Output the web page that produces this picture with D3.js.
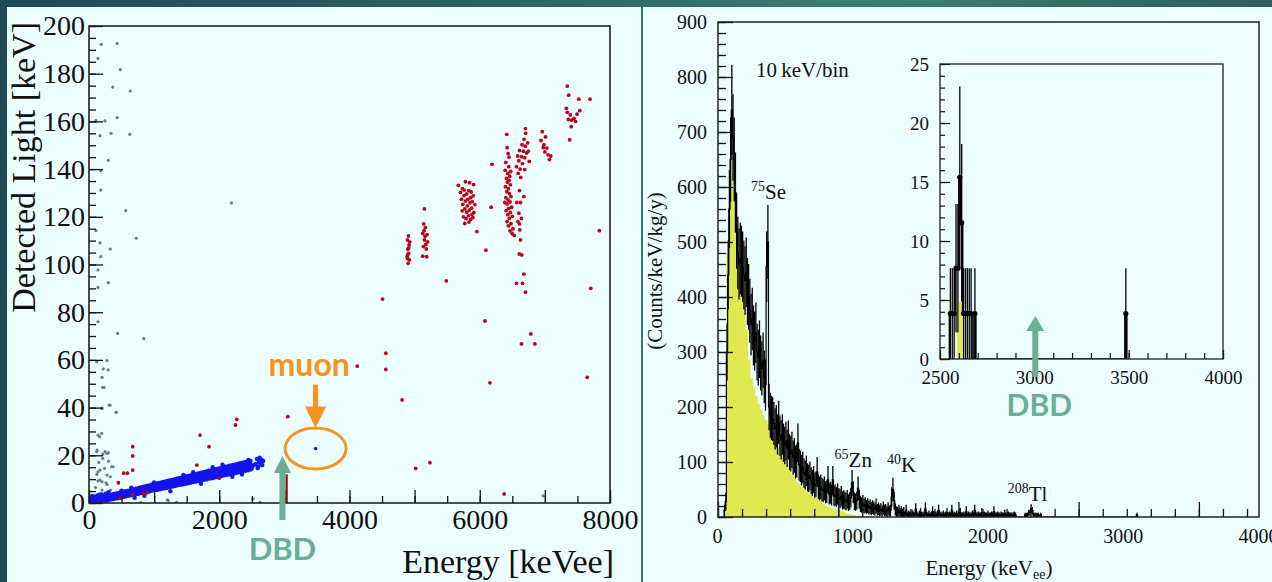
<!DOCTYPE html>
<html>
<head>
<meta charset="utf-8">
<script src="https://cdn.jsdelivr.net/npm/d3@7"></script>
<style>
  html, body { margin: 0; padding: 0; background: #1d4b56; }
  svg { display: block; }
  .serif { font-family: "Liberation Serif", "Times New Roman", serif; fill: #111; }
  .note { font-family: Lato, "Open Sans", sans-serif; font-weight: 700; }
</style>
</head>
<body>
<svg id="chart" width="1272" height="582"></svg>
<script>
// ---------- Left panel: light yield vs. energy scatter ----------
// Blue band (beta/gamma events): columns of [energy keVee, light values keV ...]
const betaGammaColumns = [
  [20, 0.0, 0.6, 1.1, 0.3], [40, 0.1, 1.3, 0.7, 0.2], [60, 1.5, 0.4, 0.9, 0.0], [80, 0.2, 1.6, 1.0, 0.5],
  [100, 1.8, 0.3, 1.2, 0.6], [130, 0.4, 2.0, 1.1, 0.7], [160, 2.3, 0.6, 1.5, 0.9], [190, 0.8, 2.5, 1.3, 2.1],
  [220, 1.0, 2.7, 1.6, 0.9], [250, 2.9, 1.2, 2.2, 1.5], [280, 1.1, 3.0, 2.4, 1.6], [310, 3.3, 1.4, 2.0, 2.7],
  [340, 1.5, 3.4, 2.3, 2.9], [370, 3.7, 1.7, 2.5, 3.1], [400, 1.9, 3.9, 2.6, 3.3], [440, 4.1, 2.0, 3.5, 2.6],
  [480, 2.3, 4.4, 3.0, 3.8], [520, 4.7, 2.5, 3.9, 3.1], [560, 2.7, 4.9, 3.5, 4.3], [600, 5.2, 3.0, 4.5, 3.6],
  [640, 3.2, 5.4, 4.0, 4.8], [680, 5.7, 3.4, 4.9, 4.1], [720, 3.7, 6.0, 4.5, 5.4], [760, 6.3, 3.9, 5.6, 4.6],
  [800, 4.2, 6.6, 5.0, 5.9], [840, 6.8, 4.4, 6.1, 5.1], [880, 4.6, 7.1, 5.4, 6.4], [920, 7.4, 4.8, 6.6, 5.6],
  [960, 5.1, 7.7, 5.9, 6.9], [1000, 7.9, 5.3, 7.1, 6.1], [1040, 5.5, 8.2, 6.4, 7.4], [1080, 8.4, 5.7, 7.6, 6.6],
  [1120, 6.0, 8.7, 6.8, 7.9], [1160, 8.9, 6.2, 8.1, 7.1], [1200, 6.4, 9.2, 7.3, 8.4], [1240, 9.5, 6.7, 8.6, 7.5],
  [1280, 6.9, 9.7, 7.8, 8.9], [1320, 10.0, 7.1, 9.1, 8.0], [1360, 7.4, 10.3, 8.3, 9.4], [1400, 10.5, 7.6, 9.6, 8.5],
  [1440, 7.8, 10.8, 8.8, 9.9], [1480, 11.1, 8.1, 10.1, 9.0], [1520, 8.3, 11.3, 9.3, 10.4], [1560, 11.6, 8.5, 10.6, 9.5],
  [1600, 8.8, 11.9, 9.8, 10.9], [1640, 12.1, 9.0, 11.1, 10.0], [1680, 9.2, 12.4, 10.3, 11.4], [1720, 12.7, 9.5, 11.6, 10.5],
  [1760, 9.7, 12.9, 10.8, 11.9], [1800, 13.2, 9.9, 12.1, 11.0], [1840, 10.2, 13.5, 11.3, 12.4], [1880, 13.7, 10.4, 12.6, 11.5],
  [1920, 10.6, 14.0, 11.8, 12.9], [1960, 14.3, 10.9, 13.1, 12.0], [2000, 11.1, 14.5, 12.3, 13.4], [2040, 14.8, 11.3, 13.6, 12.5],
  [2080, 11.6, 15.1, 12.8, 13.9], [2120, 15.3, 11.8, 14.1, 13.0], [2160, 12.0, 15.6, 13.3, 14.4], [2200, 15.9, 12.3, 14.6, 13.5],
  [2240, 12.5, 16.1, 13.8, 14.9], [2280, 16.4, 12.8, 15.1, 14.0], [2320, 13.0, 16.7, 14.3, 15.4], [2360, 16.9, 13.2, 15.6, 14.5],
  [2400, 13.5, 17.2, 14.8, 15.9], [2440, 17.4, 13.7, 16.1, 15.0], [2480, 14.0, 17.6, 15.3, 16.3]
];
// Extra blue events: low-energy blob, band edges and the 2615 keV cluster
const betaGammaExtra = [
  [30, 1.9], [70, 2.6], [110, 2.9], [140, 3.3], [200, 3.6], [230, 0.4], [260, 4.0], [50, 3.0],
  [300, 4.5], [650, 6.4], [1000, 8.6], [1250, 4.9], [1600, 12.9], [1720, 8.1], [2050, 16.1],
  [2200, 11.0], [850, 3.0], [1450, 11.8], [1900, 15.0], [2350, 12.0], [500, 5.2], [700, 2.2],
  [2447, 18.0], [2500, 14.6], [2530, 15.8], [2560, 16.4], [2580, 18.5], [2590, 14.7], [2600, 15.3],
  [2610, 17.2], [2620, 19.0], [2640, 16.8], [2650, 18.2], [2660, 15.9], [2675, 17.6]
];
const muonEvent = [3479, 22.8];

// Grey events (surface / low-energy alpha region)
const greyEvents = [
  [188, 192.3], [432, 192.7], [138, 186.4], [482, 181.7], [364, 174.4], [633, 172.7], [106, 160.3],
  [244, 160.2], [432, 161.6], [169, 154], [338, 155], [627, 154.6], [295, 143.7], [181, 139.2],
  [181, 131.2], [2188, 125.8], [564, 122.6], [106, 114.2], [727, 111], [169, 109.1], [326, 106.5],
  [181, 103.3], [138, 97.7], [295, 92.4], [138, 90.4], [138, 76], [439, 71.1], [840, 68.9],
  [119, 59.2], [276, 59.7], [219, 56.2], [295, 55.8], [200, 52.7], [231, 48.4], [307, 41.1],
  [200, 39.7], [420, 38], [138, 28.5], [163, 27.8], [125, 22.2], [276, 20.8], [213, 20.5],
  [370, 15.2], [138, 13.1], [276, 11.7], [169, 9.6], [261, 8.5], [326, 11], [200, 5.4],
  [1203, 1.3], [1329, 0], [796, 0.2], [2519, 1.7], [6972, 3], [2627, 0.3], [1218, 1], [1347, 0.3],
  [210, 48.5], [195, 39.7], [323, 41], [415, 38], [195, 29.2], [118, 21.5], [246, 21.5], [297, 21],
  [210, 18.7], [348, 15.2], [169, 13.8], [138, 9.3], [200, 8.9], [276, 7.8], [100, 6.5], [330, 5.4],
  [169, 4.0], [261, 2.6], [400, 2.0], [120, 12.0], [240, 14.5], [300, 17.5], [150, 17.0]
];

// Red events (alpha region and scattered high-light events)
const alphaEvents = [
  // ~4.9 MeV group
  [4905, 112.0], [4890, 110.3], [4915, 108.2], [4895, 106.4], [4910, 104.7], [4885, 103.3],
  [4920, 101.9], [4900, 100.5], [4895, 104.2], [4925, 109.5], [4908, 107.0], [4890, 102.5],
  // ~5.15 MeV group
  [5150, 123.3], [5140, 117.0], [5165, 115.5], [5125, 113.0], [5190, 112.5], [5150, 110.3],
  [5200, 109.5], [5135, 107.5], [5180, 106.5], [5125, 103.5], [5185, 103.3], [5160, 111.8],
  [5145, 114.2], [5170, 108.4],
  // ~5.8 MeV group
  [5672, 133.2], [5704, 130.2], [5735, 131.8], [5780, 134.7], [5843, 134.3], [5905, 133.5],
  [5720, 127.4], [5760, 128.9], [5800, 129.6], [5830, 131.0], [5870, 130.4], [5900, 128.8],
  [5740, 125.2], [5780, 126.6], [5815, 127.3], [5850, 125.9], [5885, 126.4], [5925, 125.1],
  [5730, 122.5], [5770, 123.3], [5800, 121.9], [5840, 122.8], [5875, 123.6], [5910, 121.8],
  [5750, 120.0], [5790, 119.2], [5825, 120.4], [5860, 118.9], [5895, 119.7], [5770, 117.2],
  [5835, 117.8], [5880, 121.0], [5810, 124.6], [5760, 131.2], [5860, 128.0],
  // ~6.4 MeV group
  [6414, 154.6], [6420, 149.0], [6435, 146.5], [6400, 142.8], [6445, 141.0], [6390, 139.5],
  [6430, 138.2], [6460, 137.0], [6410, 136.1], [6450, 135.3], [6425, 134.5], [6470, 133.4],
  [6395, 132.6], [6440, 131.8], [6415, 130.5], [6455, 129.7], [6480, 128.5], [6400, 128.0],
  [6435, 127.1], [6465, 126.2], [6420, 125.4], [6490, 124.0], [6445, 123.5], [6405, 122.6],
  [6470, 121.8], [6430, 120.9], [6500, 120.2], [6455, 119.3], [6420, 118.0], [6480, 117.1],
  [6440, 116.2], [6510, 115.0], [6465, 114.1], [6495, 113.0], [6530, 112.2], [6450, 145.0],
  [6475, 139.0], [6385, 126.0], [6570, 126.0], [6600, 121.5], [6585, 118.0], [6615, 114.5],
  [6610, 131.0], [6677, 128.5], [6625, 126.0], [6640, 119.3], [6610, 117.0],
  [6626, 110.3], [6608, 104.4], [6645, 104.0], [6677, 96.0], [6564, 92.1], [6657, 92.1], [6702, 88.4],
  // ~6.7 MeV group
  [6564, 141.0], [6590, 138.2], [6600, 143.5], [6620, 140.0], [6640, 145.2], [6655, 142.3],
  [6670, 147.5], [6690, 144.8], [6700, 149.6], [6720, 146.7], [6735, 151.0], [6610, 147.8],
  [6650, 150.2], [6680, 152.5], [6705, 155.0], [6700, 157.0], [6630, 136.5], [6580, 145.5],
  [6745, 147.5], [6760, 143.2], [6690, 139.8],
  // ~7.0 MeV group
  [6940, 152.0], [6960, 155.7], [6985, 150.3], [7010, 153.5], [7030, 148.8], [7050, 146.0],
  [7070, 144.0], [7000, 147.2], [7090, 145.5], [6975, 149.0],
  // ~7.4 MeV group
  [7344, 174.8], [7366, 171.0], [7522, 169.3], [7344, 163.8], [7391, 162.7], [7447, 161.3],
  [7494, 163.0], [7536, 164.5], [7405, 157.8], [7381, 152.3], [7330, 165.5], [7410, 160.5],
  [7470, 160.0], [7360, 160.8],
  // isolated events
  [7693, 169.3], [7837, 114.2], [7705, 90.0], [5486, 93.1], [5956, 113.8], [6094, 106.0],
  [6175, 124.0], [6188, 142.0], [4507, 85.5], [4558, 62.8], [4558, 56.0], [4808, 43.2],
  [4119, 57.4], [5016, 14.5], [5235, 16.9], [6080, 76.3], [6157, 50.4], [6375, 3.8],
  [6640, 66.7], [6784, 70.9], [6846, 66.7], [7650, 52.7], [3053, 36.2], [2269, 35.1],
  [2249, 32.7], [1705, 28.5], [1843, 23.6], [1655, 15.9], [2000, 10.4], [671, 23.6],
  [671, 19.7], [671, 13.8], [533, 12.5], [589, 12.5], [451, 8.5], [482, 2.0], [671, 3.4],
  [828, 4.1], [890, 4.3]
];
const qValue = 3034;            // keV, marked on the energy axis
const qMarkLight = 12;          // height of the Q-value marker (keV light)

const leftXTicks = [0, 2000, 4000, 6000, 8000];
const leftYTicks = [0, 20, 40, 60, 80, 100, 120, 140, 160, 180, 200];

// ---------- Right panel: energy spectrum, 10 keV/bin ----------
const specStart = 50;   // keV, lower edge of first bin
const binWidth = 10;    // keV
const specValues = [
  12, 28, 300, 440, 560, 650, 740, 690, 650, 590,   // 50-140
  520, 480, 460, 470, 465, 455, 440, 430, 445, 410,  // 150-240
  400, 375, 350, 360, 330, 320, 335, 300, 290, 305,  // 250-340
  280, 270, 285, 255, 240, 455, 500, 200, 185, 180,  // 350-440
  178, 170, 160, 165, 150, 172, 148, 140, 150, 135,  // 450-540
  130, 138, 125, 140, 118, 115, 122, 108, 112, 100,  // 550-640
  102, 135, 95, 92, 85, 90, 80, 76, 84, 72,          // 650-740
  70, 75, 66, 62, 68, 58, 60, 82, 55, 52,            // 750-840
  55, 50, 48, 52, 45, 46, 68, 42, 44, 40,            // 850-940
  68, 38, 40, 36, 42, 35, 33, 38, 30, 32,            // 950-1040
  30, 28, 32, 26, 29, 35, 62, 45, 28, 27,            // 1050-1140
  30, 52, 32, 24, 22, 25, 20, 22, 18, 21,            // 1150-1240
  17, 19, 15, 18, 16, 14, 20, 13, 15, 12,            // 1250-1340
  14, 11, 16, 12, 13, 10, 15, 11, 12, 36,            // 1350-1440
  50, 30, 14, 10, 9, 12, 8, 10, 7, 9,                // 1450-1540
  4, 12, 3, 5, 4, 3, 6, 4, 3, 14,                    // 1550-1640
  4, 3, 5, 8, 3, 4, 3, 15, 4, 3,                     // 1650-1740
  5, 3, 4, 10, 3, 4, 3, 5, 12, 3,                    // 1750-1840
  4, 3, 5, 3, 4, 8, 3, 4, 3, 12,                     // 1850-1940
  3, 4, 3, 5, 3, 4, 8, 3, 3, 4,                      // 1950-2040
  3, 10, 3, 4, 3, 3, 5, 3, 12, 4,                    // 2050-2140
  3, 4, 3, 3, 8, 3, 4, 3, 3, 5,                      // 2150-2240
  3, 3, 4, 3, 10, 3, 3, 4, 3, 3,                     // 2250-2340
  4, 3, 3, 6, 3, 3, 4, 3, 3, 3,                      // 2350-2440
  3, 4, 3                                            // 2450-2470
];
const specWeight = 9;   // counts/keV/kg/y per event in the 10 keV/bin spectrum
// Sparse high-energy bins (lower edge keV, counts/keV/kg/y); one event = 3.85
const highBinStart = [2550, 2560, 2570, 2580, 2590, 2600, 2610, 2620, 2630, 2640, 2650, 2660, 2680, 3480];
const highBinValue = [3.85, 3.85, 3.85, 7.7, 7.7, 15.4, 11.55, 3.85, 3.85, 3.85, 3.85, 3.85, 3.85, 3.85];
const highWeight = 3.85;

// Yellow reference spectrum, 20 keV bins from 70 keV
const refStart = 70;
const refWidth = 20;
const refValues = [
  480, 585, 655, 600, 520, 445, 400, 372, 340, 285, 252, 236, 220, 206, 195, 185, 176, 168,
  158, 146, 136, 126, 117, 110, 102, 94, 85, 77, 70, 64, 60, 55, 50, 46, 42, 40, 38, 36,
  32, 28, 24, 20, 18, 16, 15, 14, 13, 12, 10, 8, 6, 5, 4, 3, 2, 2, 1, 1, 1, 1, 1, 1
];
const refHighStart = [2590, 2600, 2610];
const refHighValue = [2.2, 4.8, 4.8];

const rightXLabels = [0, 1000, 2000, 3000, 4000];
const rightYTicks = [0, 100, 200, 300, 400, 500, 600, 700, 800, 900];
const insetXTicks = [2500, 3000, 3500, 4000];
const insetYTicks = [0, 5, 10, 15, 20, 25];

// Isotope labels: [mass, symbol, energy keV, value]
const isotopes = [
  ["75", "Se", 275, 578],
  ["65", "Zn", 970, 91],
  ["40", "K", 1405, 82],
  ["208", "Tl", 2410, 30]
];

// ---------- drawing ----------
const svg = d3.select("#chart");
const W = 1272, H = 582;
const PANEL = "#ebfdfd";

const defs = svg.append("defs");
const grad = defs.append("linearGradient").attr("id", "topbar").attr("x1", 0).attr("x2", 1).attr("y1", 0).attr("y2", 0);
[["0%", "#1c4a55"], ["40%", "#2c6466"], ["70%", "#3b7e73"], ["100%", "#2b5e5e"]]
  .forEach(([o, c]) => grad.append("stop").attr("offset", o).attr("stop-color", c));

svg.append("rect").attr("width", W).attr("height", H).attr("fill", "#1d4b56");
svg.append("rect").attr("width", W).attr("height", 7).attr("fill", "url(#topbar)");
svg.append("rect").attr("x", 7).attr("y", 7).attr("width", 634).attr("height", H - 7).attr("fill", PANEL);
svg.append("rect").attr("x", 641).attr("y", 7).attr("width", 2).attr("height", H - 7).attr("fill", "#36776e");
svg.append("rect").attr("x", 643).attr("y", 7).attr("width", W - 643).attr("height", H - 7).attr("fill", PANEL);

function tickAxis(g, gen, scale, values, size, width) {
  g.call(gen(scale).tickValues(values).tickSize(size).tickFormat(""));
  g.select(".domain").remove();
  g.selectAll("line").attr("stroke", "#111").attr("stroke-width", width || 1.3);
}
function labelAxis(g, gen, scale, values, pad, size) {
  g.call(gen(scale).tickValues(values).tickSize(0).tickPadding(pad).tickFormat(d3.format("d")));
  g.select(".domain").remove();
  g.selectAll("text").attr("class", "serif").attr("font-size", size).attr("fill", "#111");
}

// ===== Left panel =====
const xL = d3.scaleLinear().domain([0, 8000]).range([89, 610]);
const yL = d3.scaleLinear().domain([0, 200]).range([503, 26]);

defs.append("clipPath").attr("id", "clipL").append("rect")
  .attr("x", 89).attr("y", 26).attr("width", 521).attr("height", 477);

const gL = svg.append("g");
const scat = gL.append("g").attr("clip-path", "url(#clipL)");

scat.selectAll(".grey").data(greyEvents).join("circle")
  .attr("cx", d => xL(d[0])).attr("cy", d => yL(d[1])).attr("r", 1.6)
  .attr("fill", "#6d7894");

const blue = betaGammaColumns.flatMap(c => c.slice(1).map(v => [c[0], v])).concat(betaGammaExtra);
scat.selectAll(".blue").data(blue).join("circle")
  .attr("cx", d => xL(d[0])).attr("cy", d => yL(d[1])).attr("r", 2.2)
  .attr("fill", "#1414ee");

scat.selectAll(".red").data(alphaEvents).join("circle")
  .attr("cx", d => xL(d[0])).attr("cy", d => yL(d[1])).attr("r", 1.9)
  .attr("fill", "#b8061c");

scat.append("circle").attr("cx", xL(muonEvent[0])).attr("cy", yL(muonEvent[1])).attr("r", 1.8).attr("fill", "#1414ee");

scat.append("line")
  .attr("x1", xL(qValue)).attr("x2", xL(qValue)).attr("y1", yL(0)).attr("y2", yL(qMarkLight))
  .attr("stroke", "#9a0d14").attr("stroke-width", 2.4);

tickAxis(gL.append("g").attr("transform", "translate(89,0)"), d3.axisRight, yL, d3.range(0, 201, 5), 7);
tickAxis(gL.append("g").attr("transform", "translate(89,0)"), d3.axisRight, yL, leftYTicks, 14);
tickAxis(gL.append("g").attr("transform", "translate(0,503)"), d3.axisTop, xL, d3.range(0, 8001, 500), 7);
tickAxis(gL.append("g").attr("transform", "translate(0,503)"), d3.axisTop, xL, d3.range(0, 8001, 1000), 13);
gL.append("rect").attr("x", 89).attr("y", 26).attr("width", 521).attr("height", 477)
  .attr("fill", "none").attr("stroke", "#222").attr("stroke-width", 1.6);

labelAxis(gL.append("g").attr("transform", "translate(89,0)"), d3.axisLeft, yL, leftYTicks, 4, 28);
labelAxis(gL.append("g").attr("transform", "translate(0,503)"), d3.axisBottom, xL, leftXTicks, 6, 28);

gL.append("text").attr("class", "serif").attr("font-size", 34)
  .attr("text-anchor", "end").attr("transform", "translate(35,22) rotate(-90)")
  .text("Detected Light [keV]");
gL.append("text").attr("class", "serif").attr("font-size", 34)
  .attr("text-anchor", "end").attr("x", 614).attr("y", 573)
  .text("Energy [keVee]");

// muon annotation
const ORANGE = "#f5941e", GREEN = "#6aae94";
const mx = xL(muonEvent[0]), my = yL(muonEvent[1]);
gL.append("ellipse").attr("cx", mx).attr("cy", my).attr("rx", 30.5).attr("ry", 20.5)
  .attr("fill", "none").attr("stroke", ORANGE).attr("stroke-width", 3);
gL.append("rect").attr("x", mx - 2.6).attr("y", my - 64).attr("width", 5.2).attr("height", 24).attr("fill", ORANGE);
gL.append("path").attr("d", `M${mx - 10.5},${my - 42} L${mx + 10.5},${my - 42} L${mx},${my - 20.5} Z`).attr("fill", ORANGE);
gL.append("text").attr("class", "note").attr("font-size", 32).attr("fill", ORANGE)
  .attr("x", mx - 47).attr("y", my - 73).text("muon");

// DBD arrow (left)
const dx = xL(2970);
gL.append("path").attr("d", `M${dx - 8.5},${yL(0) - 30} L${dx + 8.5},${yL(0) - 30} L${dx},${yL(0) - 47} Z`).attr("fill", GREEN);
gL.append("rect").attr("x", dx - 3).attr("y", yL(0) - 31).attr("width", 6).attr("height", 48).attr("fill", GREEN);
gL.append("text").attr("class", "note").attr("font-size", 31).attr("fill", GREEN)
  .attr("text-anchor", "middle").attr("x", dx).attr("y", 560).text("DBD");

// ===== Right panel =====
const xR = d3.scaleLinear().domain([0, 4500]).range([718, 1259]);
const xRLab = d3.scaleLinear().domain([0, 4000]).range([717, 1258]);
const yR = d3.scaleLinear().domain([0, 900]).range([517, 22]);

defs.append("clipPath").attr("id", "clipR").append("rect")
  .attr("x", 718).attr("y", 22).attr("width", 541).attr("height", 495);

const gR = svg.append("g");
const plotR = gR.append("g").attr("clip-path", "url(#clipR)");

// bins
const lowBins = specValues.map((v, i) => ({ x0: specStart + i * binWidth, x1: specStart + (i + 1) * binWidth, v, w: specWeight }));
const highBins = highBinStart.map((s, i) => ({ x0: s, x1: s + binWidth, v: highBinValue[i], w: highWeight }));
const allBins = lowBins.concat(highBins);
const refBins = refValues.map((v, i) => ({ x0: refStart + i * refWidth, x1: refStart + (i + 1) * refWidth, v }))
  .concat(refHighStart.map((s, i) => ({ x0: s, x1: s + binWidth, v: refHighValue[i] })));

function stepPoints(bins) {
  const pts = [[bins[0].x0, 0]];
  bins.forEach((b, i) => {
    pts.push([b.x0, b.v]);
    const next = bins[i + 1];
    if (!next || next.x0 !== b.x1) { pts.push([b.x1, b.v]); pts.push([b.x1, 0]); }
  });
  return pts;
}
const err = b => Math.sqrt(b.v * b.w);

function drawSpectrum(g, xs, ys, bins, refs, lw, ew) {
  // reference spectrum (filled)
  [refs.filter(b => b.x0 < 2000), refs.filter(b => b.x0 >= 2000)]
    .filter(gr => gr.length)
    .forEach(gr => {
      g.append("path").datum(stepPoints(gr))
        .attr("d", d3.area().curve(d3.curveStepAfter).x(d => xs(d[0])).y0(ys(0)).y1(d => ys(d[1])))
        .attr("fill", "#dfe84f");
    });
  g.append("path").datum(stepPoints(bins))
    .attr("d", d3.line().curve(d3.curveStepAfter).x(d => xs(d[0])).y(d => ys(d[1])))
    .attr("fill", "none").attr("stroke", "#000").attr("stroke-width", lw);
  g.selectAll(null).data(bins.filter(b => b.v > 0)).join("line")
    .attr("x1", b => xs((b.x0 + b.x1) / 2)).attr("x2", b => xs((b.x0 + b.x1) / 2))
    .attr("y1", b => ys(Math.max(0, b.v - err(b)))).attr("y2", b => ys(b.v + err(b)))
    .attr("stroke", "#000").attr("stroke-width", ew);
}
drawSpectrum(plotR, xR, yR, allBins, refBins, 1.2, 1.3);

tickAxis(gR.append("g").attr("transform", "translate(718,0)"), d3.axisRight, yR, d3.range(0, 901, 20), 8);
tickAxis(gR.append("g").attr("transform", "translate(718,0)"), d3.axisRight, yR, rightYTicks, 15);
tickAxis(gR.append("g").attr("transform", "translate(0,517)"), d3.axisTop, xR, d3.range(0, 4401, 200), 8);
tickAxis(gR.append("g").attr("transform", "translate(0,517)"), d3.axisTop, xR, [0, 1000, 2000, 3000, 4000], 15);
gR.append("rect").attr("x", 718).attr("y", 22).attr("width", 541).attr("height", 495)
  .attr("fill", "none").attr("stroke", "#222").attr("stroke-width", 1.5);

labelAxis(gR.append("g").attr("transform", "translate(718,0)"), d3.axisLeft, yR, rightYTicks, 11, 20);
labelAxis(gR.append("g").attr("transform", "translate(0,517)"), d3.axisBottom, xRLab, rightXLabels, 12, 20);

gR.append("text").attr("class", "serif").attr("font-size", 21)
  .attr("text-anchor", "middle").attr("transform", "translate(662,271) rotate(-90)")
  .text("(Counts/keV/kg/y)");
const xt = gR.append("text").attr("class", "serif").attr("font-size", 21)
  .attr("text-anchor", "middle").attr("x", 989).attr("y", 575);
xt.append("tspan").text("Energy (keV");
xt.append("tspan").attr("font-size", 14).attr("dy", 4).text("ee");
xt.append("tspan").attr("dy", -4).text(")");

gR.append("text").attr("class", "serif").attr("font-size", 21)
  .attr("x", 756).attr("y", 77).text("10\u2009keV/bin");

isotopes.forEach(([mass, sym, e, v]) => {
  const t = gR.append("text").attr("class", "serif").attr("x", xR(e)).attr("y", yR(v));
  t.append("tspan").attr("font-size", 14).attr("dy", -8).text(mass);
  t.append("tspan").attr("font-size", 21).attr("dy", 8).text(sym);
});

// ===== Inset =====
const xI = d3.scaleLinear().domain([2500, 4000]).range([940, 1223]);
const yI = d3.scaleLinear().domain([0, 25]).range([359, 64]);
defs.append("clipPath").attr("id", "clipI").append("rect")
  .attr("x", 940).attr("y", 64).attr("width", 283).attr("height", 295);
const gI = svg.append("g");
const plotI = gI.append("g").attr("clip-path", "url(#clipI)");
drawSpectrum(plotI, xI, yI, highBins, refBins.filter(b => b.x0 >= 2500), 1.6, 1.3);
plotI.selectAll(null).data(highBins).join("circle")
  .attr("cx", b => xI((b.x0 + b.x1) / 2)).attr("cy", b => yI(b.v)).attr("r", 2.6).attr("fill", "#000");

tickAxis(gI.append("g").attr("transform", "translate(940,0)"), d3.axisRight, yI, d3.range(0, 26, 1), 5, 1.2);
tickAxis(gI.append("g").attr("transform", "translate(940,0)"), d3.axisRight, yI, insetYTicks, 10, 1.2);
tickAxis(gI.append("g").attr("transform", "translate(0,359)"), d3.axisTop, xI, d3.range(2500, 4001, 100), 6, 1.2);
tickAxis(gI.append("g").attr("transform", "translate(0,359)"), d3.axisTop, xI, insetXTicks, 9, 1.2);
gI.append("rect").attr("x", 940).attr("y", 64).attr("width", 283).attr("height", 295)
  .attr("fill", "none").attr("stroke", "#222").attr("stroke-width", 1.3);
labelAxis(gI.append("g").attr("transform", "translate(940,0)"), d3.axisLeft, yI, insetYTicks, 11, 19);
labelAxis(gI.append("g").attr("transform", "translate(0,359)"), d3.axisBottom, xI, insetXTicks, 12, 19);

// DBD arrow (inset)
const ix = xI(3005);
gI.append("path").attr("d", `M${ix - 9},${331} L${ix + 9},${331} L${ix},${316} Z`).attr("fill", GREEN);
gI.append("rect").attr("x", ix - 3).attr("y", 330).attr("width", 6).attr("height", 47).attr("fill", GREEN);
gI.append("text").attr("class", "note").attr("font-size", 30).attr("fill", GREEN)
  .attr("text-anchor", "middle").attr("x", ix + 4).attr("y", 416).text("DBD");
</script>
</body>
</html>
